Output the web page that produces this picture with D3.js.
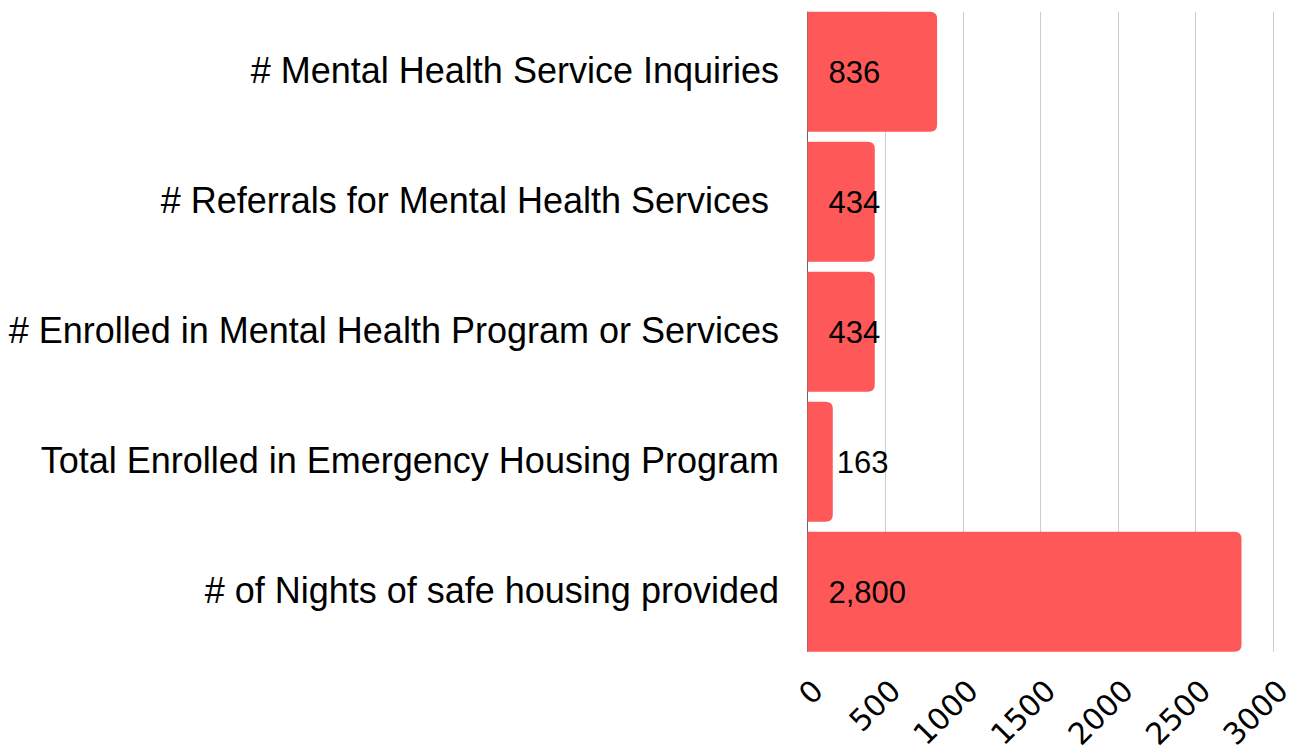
<!DOCTYPE html>
<html>
<head>
<meta charset="utf-8">
<script src="https://cdn.jsdelivr.net/npm/d3@7"></script>
<style>
  body { margin: 0; background: #fff; }
  svg { display: block; }
</style>
</head>
<body>
<div id="chart"></div>
<script>
const categories = [
    "# Mental Health Service Inquiries",
    "# Referrals for Mental Health Services ",
    "# Enrolled in Mental Health Program or Services",
    "Total Enrolled in Emergency Housing Program",
    "# of Nights of safe housing provided"
];
const values = [836, 434, 434, 163, 2800];
const valueLabels = ["836", "434", "434", "163", "2,800"];
const xTicks = [0, 500, 1000, 1500, 2000, 2500, 3000];

const width = 1296, height = 747;
const barColor = "#ff5858";

const svg = d3.select("#chart")
    .append("svg")
        .attr("width", width)
        .attr("height", height);

const x = d3.scaleLinear()
    .domain([0, 3000])
    .range([807.5, 1272.5]);

const y = d3.scaleBand()
    .domain(categories)
    .range([11.7, 651.7])
    .paddingInner(10 / 130)
    .paddingOuter(0);

// grid lines behind the bars
svg.append("g")
    .selectAll("line")
    .data(xTicks.slice(1))
    .enter()
    .append("line")
        .attr("x1", d => Math.round(x(d)) + 0.5)
        .attr("x2", d => Math.round(x(d)) + 0.5)
        .attr("y1", y.range()[0])
        .attr("y2", y.range()[1])
        .attr("stroke", "#cccccc")
        .attr("stroke-width", 1);

// zero line
svg.append("line")
    .attr("x1", x(0))
    .attr("x2", x(0))
    .attr("y1", y.range()[0])
    .attr("y2", y.range()[1])
    .attr("stroke", "#666666")
    .attr("stroke-width", 1);

// bars with rounded right corners
function barPath(x0, x1, y0, h, r) {
    r = Math.min(r, (x1 - x0), h / 2);
    return "M" + x0 + "," + y0 +
        "H" + (x1 - r) +
        "Q" + x1 + "," + y0 + " " + x1 + "," + (y0 + r) +
        "V" + (y0 + h - r) +
        "Q" + x1 + "," + (y0 + h) + " " + (x1 - r) + "," + (y0 + h) +
        "H" + x0 + "Z";
}

svg.append("g")
    .selectAll("path")
    .data(values)
    .enter()
    .append("path")
        .attr("d", (d, i) => barPath(x(0), x(d), y(categories[i]), y.bandwidth(), 7))
        .attr("fill", barColor);

// value labels
svg.append("g")
    .selectAll("text")
    .data(values)
    .enter()
    .append("text")
        .attr("x", d => x(d) - x(0) < 40 ? x(d) + 4 : x(0) + 21)
        .attr("y", (d, i) => y(categories[i]) + y.bandwidth() / 2)
        .attr("dy", "0.35em")
        .attr("font-family", "'Liberation Sans', Arial, sans-serif")
        .attr("font-size", 31)
        .attr("fill", "#000")
        .text((d, i) => valueLabels[i]);

// category labels
svg.append("g")
    .selectAll("text")
    .data(categories)
    .enter()
    .append("text")
        .attr("x", 779)
        .attr("y", d => y(d) + y.bandwidth() / 2)
        .attr("dy", "0.3em")
        .attr("text-anchor", "end")
        .attr("font-family", "'Liberation Sans', Arial, sans-serif")
        .attr("font-size", 36)
        .attr("fill", "#000")
        .style("white-space", "pre")
        .text(d => d);

// x axis with rotated tick labels
const xAxis = svg.append("g")
    .attr("transform", "translate(0," + y.range()[1] + ")")
    .call(d3.axisBottom(x).tickValues(xTicks).tickSize(0).tickFormat(d3.format("d")));
xAxis.select(".domain").remove();
xAxis.selectAll("text")
    .attr("x", 0)
    .attr("y", 0)
    .attr("dy", 0)
    .attr("text-anchor", "end")
    .attr("transform", "translate(17,41) rotate(-45)")
    .attr("font-family", "'DejaVu Sans', sans-serif")
    .attr("font-size", 30)
    .attr("fill", "#000");
</script>
</body>
</html>
